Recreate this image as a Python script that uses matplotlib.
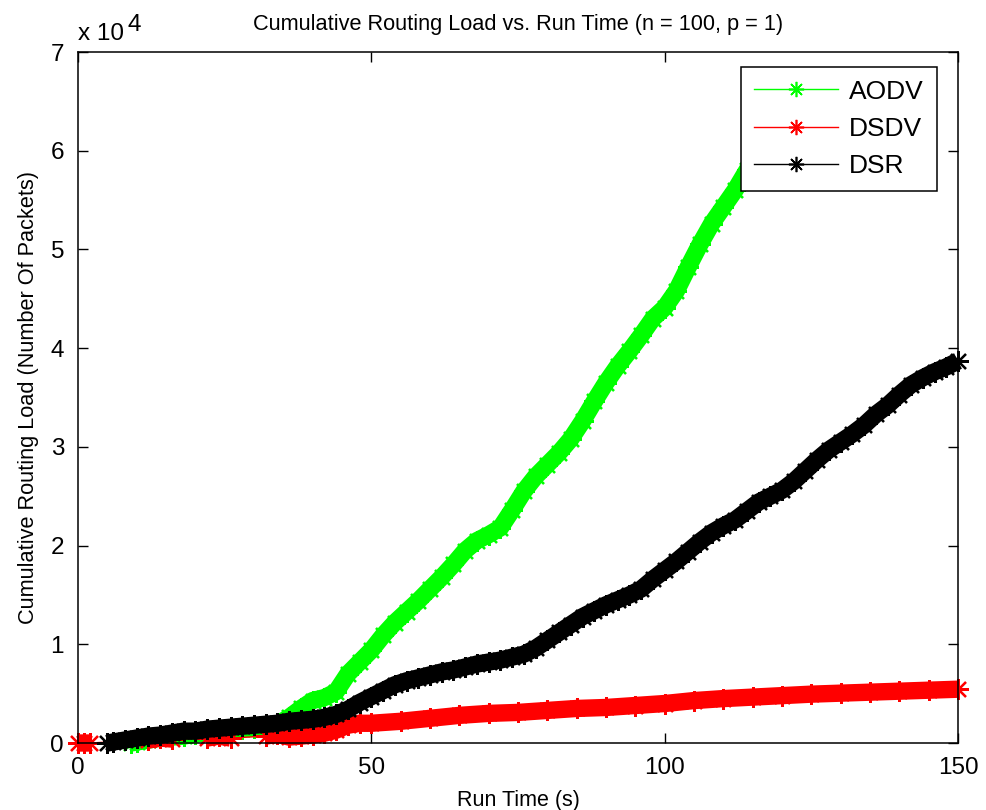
import numpy as np
import matplotlib
matplotlib.use("Agg")
import matplotlib.pyplot as plt
from matplotlib.lines import Line2D
from matplotlib.ticker import FuncFormatter

plt.rcParams['font.family'] = ['Liberation Sans', 'DejaVu Sans']

# run time (s) and cumulative routing load (packets) per protocol
aodv_time = [9, 10, 12, 14, 16, 18, 20, 22, 24, 26, 28, 30, 32, 34, 36, 38, 40,
             42, 44, 46, 48, 50, 52, 54, 56, 58, 60, 62, 64, 66, 68, 70, 72, 74,
             76, 78, 80, 82, 84, 86, 88, 90, 92, 94, 96, 98, 100, 102, 104, 106,
             108, 110, 112, 114, 116, 118, 120]
aodv_load = [0, 100, 300, 500, 600, 700, 900, 1100, 1200, 1300, 1400, 1500,
             1700, 1900, 2600, 3500, 4300, 4600, 5200, 7000, 8200, 9400, 10900,
             12200, 13300, 14400, 15600, 16800, 18100, 19500, 20500, 21100,
             21800, 23600, 25500, 27000, 28200, 29400, 30800, 32600, 34600,
             36500, 38200, 39700, 41300, 43000, 44100, 45800, 48200, 50500,
             52600, 54300, 56000, 58000, 60000, 61800, 63500]

dsdv_time = [0, 1, 2, 12, 14, 16, 22, 24, 26, 32, 34, 36, 38, 40, 42, 44, 46,
             48, 50, 55, 60, 65, 70, 75, 80, 85, 90, 95, 100, 105, 110, 115,
             120, 125, 130, 135, 140, 145, 150]
dsdv_load = [0, 0, 0, 300, 500, 400, 500, 700, 500, 700, 900, 600, 700, 800,
             1000, 1300, 1800, 2000, 2000, 2200, 2500, 2800, 3000, 3100, 3300,
             3500, 3600, 3800, 4000, 4300, 4500, 4650, 4800, 4950, 5050, 5150,
             5250, 5350, 5450]

dsr_time = [5, 6, 8, 10, 12, 14, 16, 18, 20, 22, 24, 26, 28, 30, 32, 34, 36, 38,
            40, 42, 44, 46, 48, 50, 52, 54, 56, 58, 60, 62, 64, 66, 68, 70, 72,
            74, 76, 78, 80, 82, 84, 86, 88, 90, 92, 94, 96, 98, 100, 102, 104,
            106, 108, 110, 112, 114, 116, 118, 120, 122, 124, 126, 128, 130,
            132, 134, 136, 138, 140, 142, 144, 146, 148, 150]
dsr_load = [0, 100, 300, 500, 700, 800, 1000, 1200, 1200, 1400, 1500, 1600,
            1700, 1800, 1900, 2000, 2200, 2300, 2400, 2600, 2900, 3400, 4100,
            4700, 5300, 5900, 6300, 6600, 6900, 7200, 7400, 7700, 8000, 8200,
            8400, 8700, 9000, 9600, 10400, 11200, 12000, 12800, 13400, 14000,
            14500, 15000, 15600, 16600, 17500, 18400, 19400, 20400, 21300,
            22000, 22600, 23500, 24400, 25000, 25600, 26500, 27600, 28700,
            29700, 30500, 31300, 32200, 33300, 34200, 35300, 36300, 37000,
            37600, 38100, 38700]

protocols = ['AODV', 'DSDV', 'DSR']
colors = ['#00ff00', '#ff0000', '#000000']
series = [(aodv_time, aodv_load), (dsdv_time, dsdv_load), (dsr_time, dsr_load)]

STAR = (8, 2, 0)


def band(t, v, max_gap=5):
    # break the thick trace where samples are far apart
    xs, ys = [t[0]], [v[0]]
    for i in range(1, len(t)):
        if t[i] - t[i - 1] > max_gap:
            xs.append(np.nan)
            ys.append(np.nan)
        xs.append(t[i])
        ys.append(v[i])
    return xs, ys


fig = plt.figure(figsize=(9.86, 8.10), dpi=100)
ax = fig.add_axes([0.0791, 0.0827, 0.8925, 0.8531])

for (t, v), c in zip(series, colors):
    bx, by = band(t, v)
    ax.plot(bx, by, color=c, lw=12.5, solid_capstyle='butt', clip_on=False)
    ax.plot(t, v, color=c, lw=1, marker=STAR, ms=15, mew=1.6, clip_on=False)

ax.set_xlim(0, 150)
ax.set_ylim(0, 70000)
ax.set_xticks([0, 50, 100, 150])
ax.set_yticks(np.arange(0, 70001, 10000))
ax.yaxis.set_major_formatter(FuncFormatter(lambda val, pos: f'{val / 1e4:g}'))

ax.tick_params(direction='in', top=True, right=True, length=7, width=1,
               labelsize=17.5, pad=10)
for sp in ax.spines.values():
    sp.set_linewidth(1.1)

ax.set_title('Cumulative Routing Load vs. Run Time (n = 100, p = 1)',
             fontsize=15.7, pad=16)
ax.set_xlabel('Run Time (s)', fontsize=15.5, labelpad=8)
ax.set_ylabel('Cumulative Routing Load (Number Of Packets)', fontsize=15.7,
              labelpad=8)

# exponent label above the y axis
ax.annotate('x 10', xy=(0, 1), xycoords='axes fraction', xytext=(0, 9),
            textcoords='offset points', fontsize=17.5, ha='left',
            va='baseline')
ax.annotate('4', xy=(0, 1), xycoords='axes fraction', xytext=(36, 15),
            textcoords='offset points', fontsize=17.5, ha='left',
            va='baseline')

handles = [Line2D([], [], color=c, lw=1, marker=STAR, ms=11, mew=1.2)
           for c in colors]
leg = ax.legend(handles, protocols, loc='upper right',
                bbox_to_anchor=(0.976, 0.979), borderaxespad=0, fontsize=19,
                handlelength=3.2, handletextpad=0.4, labelspacing=0.5,
                borderpad=0.5, fancybox=False, framealpha=1,
                edgecolor='black')
leg.get_frame().set_linewidth(1.1)

fig.savefig('out.png', dpi=100)
